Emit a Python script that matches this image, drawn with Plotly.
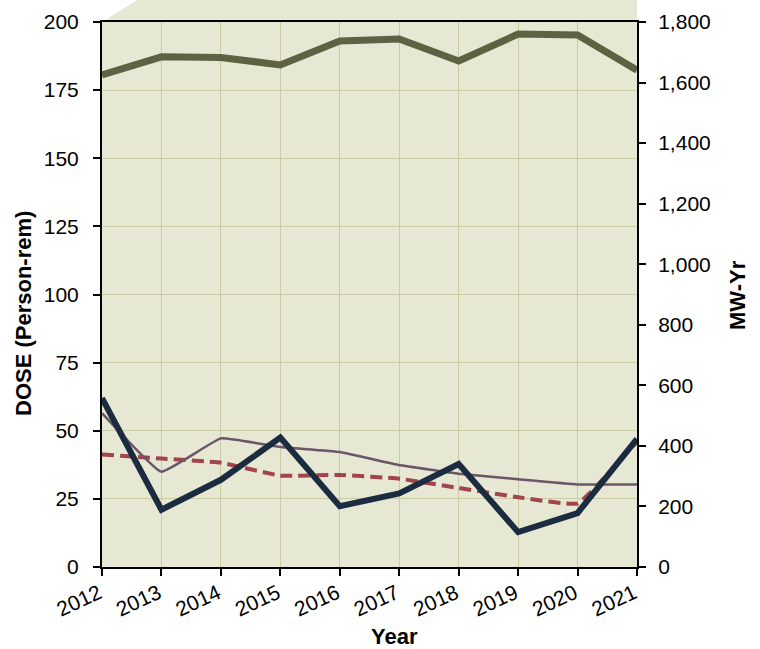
import plotly.graph_objects as go

years = [2012, 2013, 2014, 2015, 2016, 2017, 2018, 2019, 2020, 2021]
mw_yr = [1625, 1685, 1683, 1658, 1737, 1744, 1671, 1760, 1757, 1641]
dose_navy = [62, 21, 32, 47.5, 22.3, 27, 37.8, 12.8, 19.8, 47]
dose_purple = [56.5, 35, 47.2, 44, 42.2, 37.4, 34.2, 32.2, 30.3, 30.3]
dose_red = [41.3, 39.8, 38.3, 33.5, 33.8, 32.4, 29, 25.6, 23.3, 46]

left_ticks = [0, 25, 50, 75, 100, 125, 150, 175, 200]
right_ticks = [0, 200, 400, 600, 800, 1000, 1200, 1400, 1600, 1800]

FONT = "Arial, Liberation Sans, sans-serif"
BG = "#E6E8D4"
GRID = "#CACDA4"

fig = go.Figure()

fig.add_trace(go.Scatter(x=years, y=dose_red, mode="lines", yaxis="y",
                         line=dict(color="#A3434C", width=4, dash="12px,6px", shape="spline", smoothing=0.3),
                         showlegend=False))
fig.add_trace(go.Scatter(x=years, y=dose_purple, mode="lines", yaxis="y",
                         line=dict(color="#6B5569", width=2.5, shape="spline", smoothing=0.3),
                         showlegend=False))
fig.add_trace(go.Scatter(x=years, y=dose_navy, mode="lines", yaxis="y",
                         line=dict(color="#1B2B40", width=6),
                         showlegend=False))
fig.add_trace(go.Scatter(x=years, y=mw_yr, mode="lines", yaxis="y2",
                         line=dict(color="#5F6143", width=7),
                         showlegend=False))

# 3D back-wall top (Excel style)
fig.add_shape(type="path", xref="paper", yref="paper",
              path="M 0,1 L 0.098,1.06 L 1,1.06 L 1,1 Z",
              fillcolor=BG, line=dict(width=0), layer="below")

fig.update_layout(
    width=760, height=649,
    margin=dict(l=102, r=123, t=22, b=82, autoexpand=False),
    paper_bgcolor="white",
    plot_bgcolor=BG,
    font=dict(family=FONT, size=21, color="#000000"),
    xaxis=dict(range=[2012, 2021], tickmode="array", tickvals=years,
               ticktext=[str(y) for y in years], tickangle=-25,
               showgrid=True, gridcolor=GRID, gridwidth=1,
               showline=True, linecolor="black", linewidth=2, mirror=True,
               ticks="outside", ticklen=7, tickcolor="black", tickwidth=2,
               ticklabelstandoff=-3, ticklabelshift=-3,
               zeroline=False, automargin=False),
    yaxis=dict(range=[0, 200], tickmode="array", tickvals=left_ticks,
               showgrid=True, gridcolor=GRID, gridwidth=1,
               showline=True, linecolor="black", linewidth=2,
               ticks="outside", ticklen=7, tickcolor="black", tickwidth=2,
               ticklabelstandoff=10, zeroline=False, automargin=False),
    yaxis2=dict(range=[0, 1800], tickmode="array", tickvals=right_ticks,
                tickformat=",", overlaying="y", side="right",
                showgrid=False, showline=True, linecolor="black", linewidth=2,
                ticks="outside", ticklen=7, tickcolor="black", tickwidth=2,
                ticklabelstandoff=8, zeroline=False, automargin=False),
    annotations=[
        dict(text="<b>DOSE (Person-rem)</b>", xref="paper", yref="paper",
             x=(23 - 102) / 535, y=(567 - 314) / 545, textangle=-90,
             showarrow=False, font=dict(size=22, family=FONT, color="black"),
             xanchor="center", yanchor="middle"),
        dict(text="<b>MW-Yr</b>", xref="paper", yref="paper",
             x=(737 - 102) / 535, y=(567 - 295) / 545, textangle=-90,
             showarrow=False, font=dict(size=22, family=FONT, color="black"),
             xanchor="center", yanchor="middle"),
        dict(text="<b>Year</b>", xref="paper", yref="paper",
             x=(394 - 102) / 535, y=(567 - 636) / 545,
             showarrow=False, font=dict(size=22, family=FONT, color="black"),
             xanchor="center", yanchor="middle"),
    ],
)

fig.write_html("out.html", config={"displayModeBar": False},
               post_script="document.body.style.margin='0';document.body.style.overflow='hidden';")
